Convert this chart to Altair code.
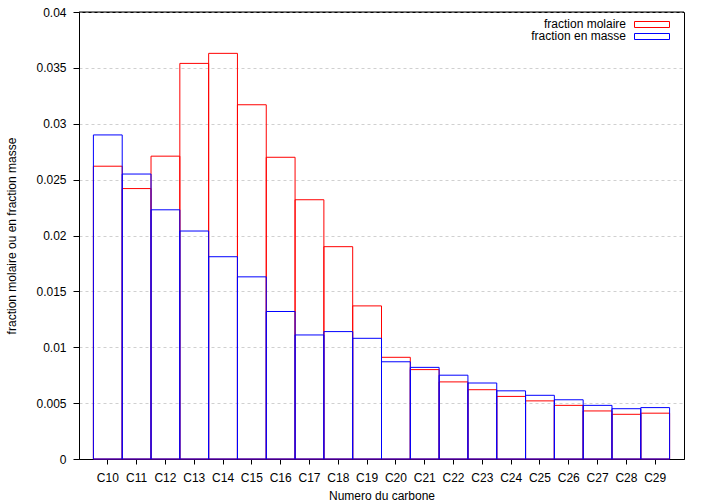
import altair as alt
import pandas as pd

carbones = ["C10", "C11", "C12", "C13", "C14", "C15", "C16", "C17", "C18", "C19",
            "C20", "C21", "C22", "C23", "C24", "C25", "C26", "C27", "C28", "C29"]
fraction_molaire = [0.0262, 0.0242, 0.0271, 0.0354, 0.0363, 0.0317, 0.0270, 0.0232, 0.0190, 0.0137,
                    0.0091, 0.0080, 0.0069, 0.0062, 0.0056, 0.0052, 0.0048, 0.0043, 0.0040, 0.0041]
fraction_masse = [0.0290, 0.0255, 0.0223, 0.0204, 0.0181, 0.0163, 0.0132, 0.0111, 0.0114, 0.0108,
                  0.0087, 0.0082, 0.0075, 0.0068, 0.0061, 0.0057, 0.0053, 0.0048, 0.0045, 0.0046]
series = ["fraction molaire", "fraction en masse"]
couleurs = ["#ff0000", "#0000ff"]
y_ticks = [0, 0.005, 0.01, 0.015, 0.02, 0.025, 0.03, 0.035, 0.04]

rows = []
for s, vals in zip(series, [fraction_molaire, fraction_masse]):
    for c, v in zip(carbones, vals):
        rows.append({"carbone": c, "valeur": v, "serie": s})
df = pd.DataFrame(rows)

FONT = "Liberation Sans"

bars = alt.Chart(df).mark_bar(fillOpacity=0, strokeWidth=1).encode(
    x=alt.X("carbone:N", sort=carbones,
            scale=alt.Scale(paddingInner=0, paddingOuter=0.5),
            axis=alt.Axis(title="Numero du carbone", labelAngle=0, tickSize=5,
                          labelPadding=8, titlePadding=7, grid=False)),
    y=alt.Y("valeur:Q", stack=None,
            scale=alt.Scale(domain=[0, 0.04], nice=False),
            axis=alt.Axis(title="fraction molaire ou en fraction masse", values=y_ticks,
                          format="~g", tickSize=6, labelPadding=7, titlePadding=17,
                          grid=True, gridDash=[3, 3], gridColor="#d0d0d0")),
    stroke=alt.Stroke("serie:N", scale=alt.Scale(domain=series, range=couleurs), legend=None),
)

# solid top border over the dashed grid line
top_border = alt.Chart(pd.DataFrame({"b": [0]})).mark_rule(color="black", strokeWidth=1).encode(
    x=alt.value(0), x2=alt.value(605), y=alt.value(0))

legend_layers = []
text_y = [12, 23.5]
box_y = [(9.5, 15.5), (21.5, 27.5)]
for i, (s, col) in enumerate(zip(series, couleurs)):
    one = pd.DataFrame({"serie": [s]})
    legend_layers.append(
        alt.Chart(one).mark_text(align="right", baseline="middle", fontSize=12, font=FONT,
                                 color="black").encode(
            text="serie:N", x=alt.value(547), y=alt.value(text_y[i]))
    )
    legend_layers.append(
        alt.Chart(one).mark_rect(fillOpacity=0, stroke=col, strokeWidth=1).encode(
            x=alt.value(555.5), x2=alt.value(590.5),
            y=alt.value(box_y[i][0]), y2=alt.value(box_y[i][1]))
    )

chart = alt.layer(bars, top_border, *legend_layers).properties(
    width=605, height=447,
    padding={"left": 79, "top": 12, "right": 21, "bottom": 45},
    autosize=alt.AutoSizeParams(type="none"),
).configure_view(
    stroke="black", strokeWidth=1
).configure_axis(
    domainColor="black", tickColor="black", labelColor="black", titleColor="black",
    labelFont=FONT, titleFont=FONT, labelFontSize=12, titleFontSize=12,
    titleFontWeight="normal", domainWidth=1, tickWidth=1
)

chart.save("out.html", embed_options={"renderer": "svg", "actions": False})
